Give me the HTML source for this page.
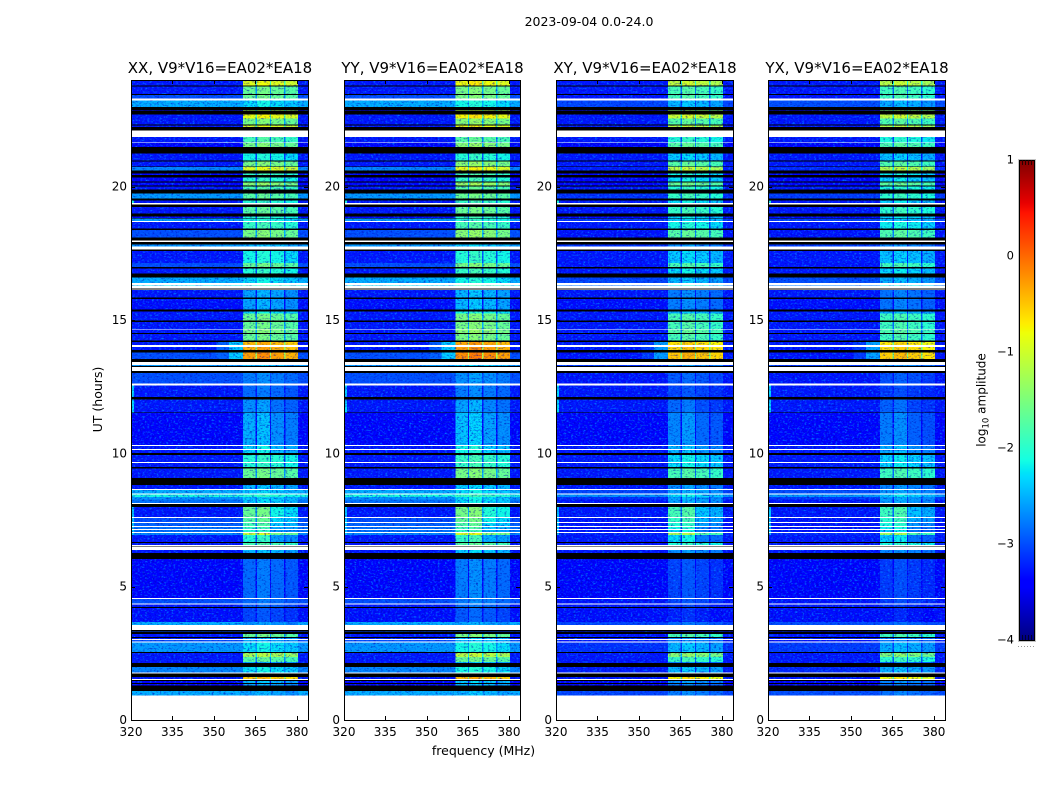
<!DOCTYPE html>
<html lang="en">
<head>
<meta charset="utf-8">
<title>2023-09-04 0.0-24.0</title>
<style>
html,body{margin:0;padding:0;background:#fff;width:1050px;height:800px;overflow:hidden}
svg{display:block}
text{font-family:"DejaVu Sans","Liberation Sans",sans-serif;fill:#000}
</style>
</head>
<body>
<svg id="chart" xmlns="http://www.w3.org/2000/svg" width="1050" height="800" viewBox="0 0 1050 800">
  <defs>
    <filter id="speckle-a" x="0" y="0" width="100%" height="100%" color-interpolation-filters="sRGB">
      <feTurbulence type="fractalNoise" baseFrequency="0.42 0.6" numOctaves="2" seed="3"/>
      <feColorMatrix values="0 0 0 0 0  0 0 0 0 0.45  0 0 0 0 1  3.2 0 0 0 -1.65"/>
    </filter>
    <filter id="speckle-b" x="0" y="0" width="100%" height="100%" color-interpolation-filters="sRGB">
      <feTurbulence type="fractalNoise" baseFrequency="0.42 0.6" numOctaves="2" seed="11"/>
      <feColorMatrix values="0 0 0 0 0  0 0 0 0 0  0 0 0 0 0.7  2 0 0 0 -1.05"/>
    </filter>
  </defs>
  <text x="589" y="26" text-anchor="middle" font-size="12.5">2023-09-04 0.0-24.0</text>
  <text x="483.5" y="755" text-anchor="middle" font-size="12.5">frequency (MHz)</text>
  <text transform="translate(102,399.5) rotate(-90)" text-anchor="middle" font-size="12.5">UT (hours)</text>
  <text transform="translate(985.5,400) rotate(-90)" text-anchor="middle" font-size="12">log<tspan font-size="8.5" dy="3">10</tspan><tspan dy="-3"> amplitude</tspan></text>
  <g id="panels"></g>
  <g id="colorbar"></g>
</svg>
<script>
const W = null;
const K = -9;

const panelTitles = ['XX, V9*V16=EA02*EA18', 'YY, V9*V16=EA02*EA18', 'XY, V9*V16=EA02*EA18', 'YX, V9*V16=EA02*EA18'];
const panelHotShift = [0, 0.1, -0.2, -0.25];
const panelBgShift = [0, 0, -0.55, -0.5];
const freqTicks = [320, 335, 350, 365, 380];
const hourTicks = [0, 5, 10, 15, 20];
const colorTicks = [1, 0, -1, -2, -3, -4];
const colorMinorTicks = [0.2, 0.4, 0.6, 0.8];

const subbandStart = [360.5, 365.5, 370.7, 375.8];
const subbandEnd = [365.0, 370.2, 375.3, 380.3];
const subbandOffset = [-0.05, 0.05, -0.05, -0.15];

const rampHours = [13.53, 14.17];
const rampFreqFrom = [351, 355.5];
const rampFreqTo = [355.5, 360.5];
const rampLevel = [-2.9, -2.35];

/* Hour spans where the upper two sub-bands run fainter */
const dimHourFrom = [8.10, 12.1];
const dimHourTo = [6.60, 9.9];
const dimAmount = [-0.5, -0.15];

/* Hour spans where the lowest channels are bright */
const edgeHourFrom = [12.95, 19.6, 8.1];
const edgeHourTo = [11.5, 19.3, 6.7];
const edgeLevel = [-2.3, -2.1, -2.4];

/* Lower hour edge of each time band, listed from 24 h downward */
const bandEnd = [
 23.80,23.76,23.48,23.44,23.31,23.24,22.99,22.86,22.83,22.71,
 22.56,22.34,22.30,22.23,22.11,21.87,21.66,21.63,21.48,21.25,
 20.99,20.95,20.76,20.73,20.61,20.50,20.43,20.35,20.20,20.16,
 20.05,20.01,19.90,19.75,19.56,19.49,19.38,19.34,19.23,19.00,
 18.89,18.83,18.80,18.72,18.68,18.44,18.38,18.10,17.99,17.92,
 17.84,17.75,17.65,17.58,17.13,16.98,16.94,16.75,16.60,16.38,
 16.32,16.29,16.19,16.15,16.12,15.85,15.78,15.40,15.31,15.25,
 14.99,14.92,14.67,14.64,14.52,14.47,14.24,14.17,14.06,13.98,
 13.87,13.79,13.53,13.42,13.31,13.27,13.23,13.08,13.01,12.61,
 12.54,12.11,12.01,11.54,11.51,10.31,10.27,10.16,10.12,10.01,
 9.93,9.67,9.63,9.48,9.44,9.07,8.81,8.66,8.62,8.49,
 8.45,8.36,8.26,8.13,8.10,7.98,7.61,7.57,7.42,7.38,
 7.27,7.23,7.16,7.12,7.05,7.01,6.93,6.67,6.63,6.56,
 6.50,6.48,6.37,6.26,6.03,4.57,4.54,4.37,4.33,4.24,
 4.20,3.67,3.56,3.37,3.32,3.30,3.22,3.11,3.07,3.04,
 3.00,2.94,2.90,2.55,2.51,2.36,2.17,2.14,1.99,1.78,
 1.74,1.61,1.54,1.50,1.46,1.39,1.35,1.29,1.09,0.92,
 0
];
/* log10 amplitude outside the receiver sub-bands; W = no data, K = below scale */
const bandBg = [
 -3.1,K,-3.1,K,-3.0,W,-2.5,K,-3.2,K,
 -3.1,-3.1,K,-3.1,K,W,-3.1,W,-3.2,K,
 -3.1,K,-3.1,K,-2.7,K,-3.2,K,-3.2,K,
 -3.2,K,-3.1,K,-2.6,K,-3.1,W,K,-3.1,
 K,-3.2,K,-2.6,W,-3.1,K,-3.0,K,W,
 K,-2.6,W,K,-3.1,-3.0,K,-3.1,K,-2.5,
 W,-2.2,W,K,W,-3.1,K,-3.15,K,-3.1,
 -3.1,K,-3.1,W,-3.1,K,-3.1,K,-3.1,W,
 -3.1,K,-3.0,K,W,-2.6,K,W,K,-3.0,
 W,-3.1,K,-3.1,K,-3.25,W,-3.1,W,-3.1,
 K,-3.1,W,-3.1,K,-3.1,K,-3.1,W,-2.5,
 W,-2.1,-2.6,-2.8,W,K,-3.1,W,-3.0,W,
 -2.9,W,-2.8,W,-2.8,W,-2.7,-3.1,K,-3.1,
 W,K,W,-3.1,K,-3.2,W,-3.0,W,-3.1,
 K,-3.15,-2.5,W,K,-3.0,K,-3.1,K,-3.1,
 W,-3.0,W,-2.6,K,-3.1,-3.1,-3.1,K,-2.7,
 W,K,-3.1,W,K,-3.2,K,-3.2,K,-2.5,
 W
];
/* log10 amplitude inside the sub-bands */
const bandHot = [
 -0.85,K,-1.6,K,-1.6,W,-2.2,K,-1.2,K,
 -0.8,-1.5,K,-0.9,K,W,-1.8,W,-1.5,K,
 -2.1,K,-1.5,K,-0.9,K,-1.9,K,-2.0,K,
 -1.4,K,-1.8,K,-1.7,K,-2.0,W,K,-1.7,
 K,-2.0,K,-2.1,W,-1.9,K,-1.5,K,W,
 K,-2.4,W,K,-2.1,-1.6,K,-2.0,K,-2.2,
 W,-1.9,W,K,W,-2.5,K,-2.5,K,-2.2,
 -1.6,K,-1.6,W,-1.5,K,-1.6,K,-0.4,W,
 -0.35,K,-0.25,K,W,-2.4,K,W,K,-2.7,
 W,-2.8,K,-2.6,K,-2.45,W,-2.2,W,-2.2,
 K,-2.0,W,-2.0,K,-1.6,K,-2.4,W,-2.3,
 W,-2.0,-2.3,-2.3,W,K,-1.6,W,-1.7,W,
 -1.8,W,-1.9,W,-2.0,W,-1.0,-2.0,K,-1.8,
 W,K,W,-2.4,K,-2.8,W,-2.8,W,-2.9,
 K,-3.0,-2.6,W,K,-3.0,K,-1.6,K,-2.4,
 W,-2.5,W,-2.2,K,-1.2,-1.7,-2.5,K,-2.2,
 W,K,-0.5,W,K,-2.4,K,-2.5,K,-2.5,
 W
];

const panelLeft = [131, 344, 556, 768];
const panelWidth = [177, 176, 177, 177];
const plotTop = 80;
const plotBottom = 720;
const svgNS = 'http://www.w3.org/2000/svg';
const xDomain = [320, 384];
const yDomain = [0, 24];
const cbarDomain = [-4, 1];
const bgCalibration = -0.18;
const weakLevel = -2.2;

function xScale(panel, f) { return panelLeft[panel] + (f - xDomain[0]) / (xDomain[1] - xDomain[0]) * panelWidth[panel]; }
function yScale(h) { return plotBottom - (h - yDomain[0]) / (yDomain[1] - yDomain[0]) * (plotBottom - plotTop); }

function clamp01(v) { return Math.max(0, Math.min(1, v)); }
function ramp(t, pts) {
  for (let i = 1; i < pts.length; i++) {
    if (t <= pts[i][0]) {
      const a = pts[i - 1], b = pts[i];
      return a[1] + (b[1] - a[1]) * (t - a[0]) / (b[0] - a[0]);
    }
  }
  return pts[pts.length - 1][1];
}
function jet(value) {
  if (value === W) return '#ffffff';
  if (value <= -8) return '#000000';
  const t = clamp01((value - cbarDomain[0]) / (cbarDomain[1] - cbarDomain[0]));
  const r = ramp(t, [[0, 0], [0.35, 0], [0.66, 1], [0.89, 1], [1, 0.5]]);
  const g = ramp(t, [[0, 0], [0.125, 0], [0.375, 1], [0.64, 1], [0.91, 0], [1, 0]]);
  const b = ramp(t, [[0, 0.5], [0.11, 1], [0.34, 1], [0.65, 0], [1, 0]]);
  return 'rgb(' + Math.round(r * 255) + ',' + Math.round(g * 255) + ',' + Math.round(b * 255) + ')';
}

function addRect(parent, name, x, y, w, h, fill) {
  const el = document.createElementNS(svgNS, 'rect');
  
  
  el.setAttribute('x', x);
  el.setAttribute('y', y);
  el.setAttribute('width', w);
  el.setAttribute('height', h);
  el.setAttribute('fill', fill);
  el.setAttribute('shape-rendering', 'crispEdges');
  parent.appendChild(el);
  return el;
}
function addLine(parent, name, x1, y1, x2, y2, stroke) {
  const el = document.createElementNS(svgNS, 'line');
  
  
  el.setAttribute('x1', x1);
  el.setAttribute('y1', y1);
  el.setAttribute('x2', x2);
  el.setAttribute('y2', y2);
  el.setAttribute('stroke', stroke);
  el.setAttribute('stroke-width', '1');
  el.setAttribute('shape-rendering', 'crispEdges');
  parent.appendChild(el);
  return el;
}
function addText(parent, name, x, y, anchor, size, str) {
  const el = document.createElementNS(svgNS, 'text');
  
  
  el.setAttribute('x', x);
  el.setAttribute('y', y);
  el.setAttribute('text-anchor', anchor);
  el.setAttribute('font-size', size);
  el.textContent = str;
  parent.appendChild(el);
  return el;
}
function addGroup(parent, name) {
  const el = document.createElementNS(svgNS, 'g');
  
  
  parent.appendChild(el);
  return el;
}

function panelBg(value, panel) {
  if (value > -3.05) return Math.max(value + panelBgShift[panel], -3.3);
  return value + bgCalibration;
}
function dimFor(upper, lower) {
  let d = 0;
  for (let i = 0; i < dimHourFrom.length; i++) {
    if (upper <= dimHourFrom[i] + 0.001 && lower >= dimHourTo[i] - 0.001) d += dimAmount[i];
  }
  return d;
}

function drawPanel(p) {
  const root = document.getElementById('panels');
  const g = addGroup(root, 'panel-' + panelTitles[p].slice(0, 2).toLowerCase());
  const left = panelLeft[p];
  const width = panelWidth[p];
  const bgCells = addGroup(g, 'background-cells');
  const speckA = addRect(g, 'speckle-light', left, plotTop, width, plotBottom - plotTop, '#0000ff');
  speckA.setAttribute('filter', 'url(#speckle-a)');
  const hotCells = addGroup(g, 'subband-cells');
  const speckB = addRect(g, 'speckle-dark', left, plotTop, width, plotBottom - plotTop, '#0000ff');
  speckB.setAttribute('filter', 'url(#speckle-b)');
  const masks = addGroup(g, 'flagged-rows');
  let upper = yDomain[1];
  for (let i = 0; i < bandEnd.length; i++) {
    const lower = bandEnd[i];
    const y0 = yScale(upper);
    const h = yScale(lower) - y0;
    const bg = bandBg[i];
    const hot = bandHot[i];
    if (bg === W || bg === K) {
      addRect(masks, bg === W ? 'no-data-row' : 'below-scale-row', left, y0, width, h, jet(bg));
    } else {
      const base = panelBg(bg, p);
      const hotValue = hot + panelHotShift[p];
      const gapValue = Math.max(base, hotValue - 1.0);
      const dim = dimFor(upper, lower);
      addRect(bgCells, 'background-cell', left, y0, width, h, jet(base));
      for (let s = 0; s < subbandStart.length; s++) {
        if (s > 0) {
          const gx = xScale(p, subbandEnd[s - 1]);
          addRect(gapValue < weakLevel ? bgCells : hotCells, 'subband-gap-cell', gx, y0, xScale(p, subbandStart[s]) - gx, h, jet(gapValue));
        }
        const sx = xScale(p, subbandStart[s]);
        const level = hotValue + subbandOffset[s] + (s >= 2 ? dim : 0);
        addRect(level < weakLevel ? bgCells : hotCells, 'subband-cell', sx, y0, xScale(p, subbandEnd[s]) - sx, h, jet(level));
      }
      if (upper <= rampHours[1] + 0.001 && lower >= rampHours[0] - 0.001) {
        for (let r = 0; r < rampLevel.length; r++) {
          const rx = xScale(p, rampFreqFrom[r]);
          addRect(bgCells, 'rfi-ramp-cell', rx, y0, xScale(p, rampFreqTo[r]) - rx, h, jet(rampLevel[r] + 0.4 * panelBgShift[p]));
        }
      }
      for (let e = 0; e < edgeHourFrom.length; e++) {
        if (upper <= edgeHourFrom[e] + 0.001 && lower >= edgeHourTo[e] - 0.001) {
          addRect(bgCells, 'low-channel-edge-cell', left, y0, xScale(p, 321) - left, h, jet(edgeLevel[e]));
        }
      }
    }
    upper = lower;
  }

  const axes = addGroup(g, 'axes');
  addRect(axes, 'plot-frame', left + 0.5, plotTop + 0.5, width, plotBottom - plotTop, 'none').setAttribute('stroke', '#000');
  freqTicks.forEach(function (f) {
    const x = Math.round(xScale(p, f)) + 0.5;
    addLine(axes, 'x-tick', x, plotBottom, x, plotBottom - 4, '#000');
    addLine(axes, 'x-tick-top', x, plotTop, x, plotTop + 4, '#000');
    addText(axes, 'x-tick-label', xScale(p, f), 736, 'middle', 12, String(f));
  });
  hourTicks.forEach(function (h) {
    const y = Math.round(yScale(h)) + 0.5;
    addLine(axes, 'y-tick', left, y, left + 4, y, '#000');
    addLine(axes, 'y-tick-right', left + width, y, left + width - 4, y, '#000');
    addText(axes, 'y-tick-label', left - 4, yScale(h) + 4, 'end', 12, String(h));
  });
  addText(g, 'panel-title', left + width / 2 + 0.5, 73, 'middle', 15, panelTitles[p]);
}

function drawColorbar() {
  const root = document.getElementById('colorbar');
  const cx = 1019, cw = 15, cTop = 160, cBottom = 640;
  const cy = function (v) { return cBottom - (v - cbarDomain[0]) / (cbarDomain[1] - cbarDomain[0]) * (cBottom - cTop); };
  addRect(root, 'colorbar-halo', cx - 1, cTop - 1, cw + 3, cBottom - cTop + 3, '#c4c4c4');
  for (let y = cTop; y < cBottom; y++) {
    const v = cbarDomain[1] - (y + 0.5 - cTop) / (cBottom - cTop) * (cbarDomain[1] - cbarDomain[0]);
    addRect(root, 'colorbar-step', cx, y, cw, 1, jet(v));
  }
  addRect(root, 'colorbar-frame', cx + 0.5, cTop + 0.5, cw, cBottom - cTop, 'none').setAttribute('stroke', '#000');
  colorTicks.forEach(function (v) {
    addText(root, 'colorbar-tick-label', cx - 5, cy(v) + 3.5, 'end', 11.5, String(v).replace('-', '\u2212'));
  });
  colorMinorTicks.forEach(function (frac) {
    const x = Math.round(cx + cw * frac) + 0.5;
    addLine(root, 'colorbar-minor-tick-top', x, cTop, x, cTop + 5, '#2a0000');
    addLine(root, 'colorbar-minor-tick-bottom', x, cBottom, x, cBottom - 5, '#000030');
  });
  for (let i = 0; i < 6; i++) {
    addRect(root, 'colorbar-dot', 1018 + i * 3, 646, 1, 1, '#999999');
  }
}

panelTitles.forEach(function (t, i) { drawPanel(i); });
drawColorbar();
</script>
</body>
</html>
